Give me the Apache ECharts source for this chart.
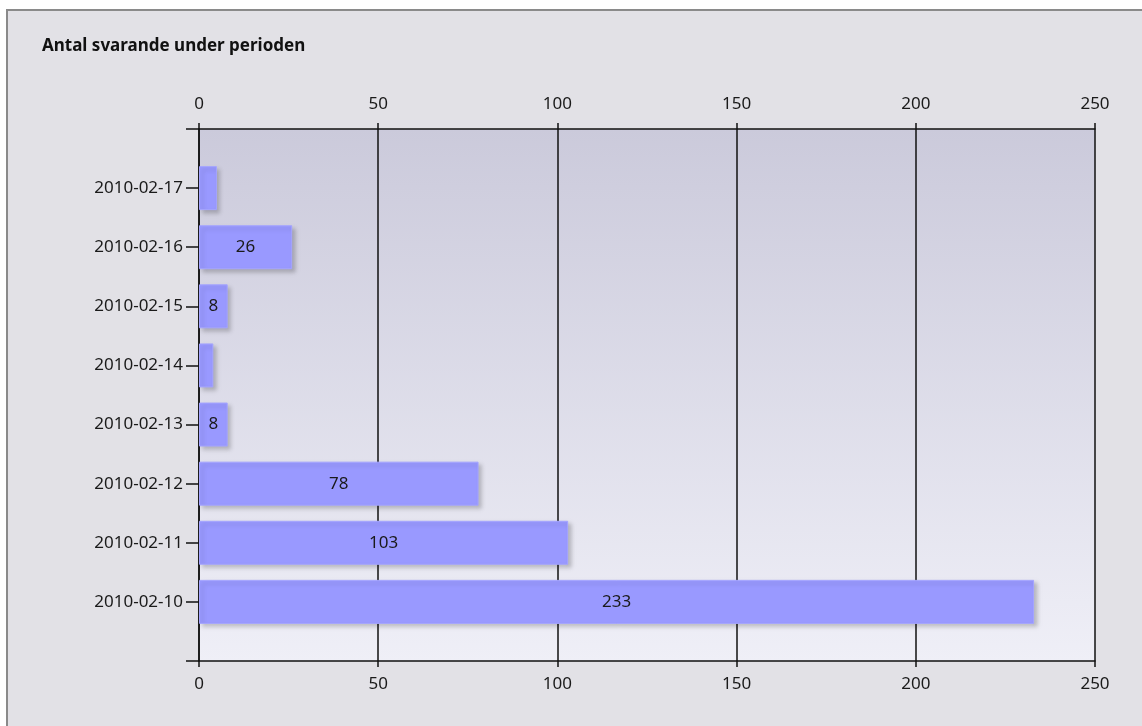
<!DOCTYPE html>
<html>
<head>
<meta charset="utf-8">
<script src="https://cdn.jsdelivr.net/npm/echarts@6/dist/echarts.min.js"></script>
<style>
html,body{margin:0;padding:0;background:#ffffff;}
#chart{width:1142px;height:726px;}
</style>
</head>
<body>
<div id="chart"></div>
<script>
const titleText = 'Antal svarande under perioden';
const categories = ['2010-02-17','2010-02-16','2010-02-15','2010-02-14','2010-02-13','2010-02-12','2010-02-11','2010-02-10'];
const values = [5, 26, 8, 4, 8, 78, 103, 233];
const xTicks = {min: 0, max: 250, interval: 50};
const labelMin = 6;

const axisCats = [''].concat(categories, ['']);
const seriesData = ['-'].concat(values, ['-']);
const font = 'Noto Sans, DejaVu Sans, sans-serif';

const chart = echarts.init(document.getElementById('chart'));
const xAxisBase = {
  type: 'value', min: xTicks.min, max: xTicks.max, interval: xTicks.interval,
  axisLine: {show: true, onZero: false, lineStyle: {color: '#111', width: 1.5}},
  axisTick: {show: true, length: 6, lineStyle: {color: '#111', width: 1.5}},
  axisLabel: {color: '#1a1a1a', fontFamily: font, fontSize: 17}
};
chart.setOption({
  animation: false,
  backgroundColor: '#ffffff',
  graphic: [{
    type: 'rect', z: -10, silent: true,
    shape: {x: 7, y: 10, width: 1200, height: 800},
    style: {fill: '#e2e1e6', stroke: '#8a8a8a', lineWidth: 2}
  }],
  title: {
    text: titleText, left: 42, top: 38, padding: 0,
    textStyle: {fontFamily: font, fontSize: 17, fontWeight: 'bold', color: '#111'}
  },
  grid: {
    left: 199, right: 47, top: 129, bottom: 65, show: true, borderWidth: 0,
    backgroundColor: new echarts.graphic.LinearGradient(0, 0, 0, 1, [
      {offset: 0, color: '#cbcadb'}, {offset: 1, color: '#efeff7'}
    ])
  },
  xAxis: [
    Object.assign({}, xAxisBase, {position: 'top',
      axisLabel: Object.assign({}, xAxisBase.axisLabel, {margin: 16}),
      splitLine: {show: true, lineStyle: {color: '#111', width: 1.5}}}),
    Object.assign({}, xAxisBase, {position: 'bottom',
      axisLabel: Object.assign({}, xAxisBase.axisLabel, {margin: 15}),
      splitLine: {show: false}})
  ],
  yAxis: {
    type: 'category', data: axisCats, inverse: true, boundaryGap: false,
    axisLine: {show: true, lineStyle: {color: '#111', width: 1.5}},
    axisTick: {show: true, length: 13, interval: 0, lineStyle: {color: '#111', width: 1.5}},
    axisLabel: {color: '#1a1a1a', fontFamily: font, fontSize: 17, margin: 16, interval: 0}
  },
  series: [{
    type: 'bar', data: seriesData, xAxisIndex: 0, barWidth: 44, z: 5,
    itemStyle: {
      color: '#9999ff', borderColor: '#a4a4ff', borderWidth: 1,
      shadowColor: 'rgba(0,0,0,0.2)', shadowBlur: 4, shadowOffsetX: 3, shadowOffsetY: 3
    },
    label: {
      show: true, position: 'inside', color: '#1a1a1a', fontFamily: font, fontSize: 17,
      formatter: p => (p.value >= labelMin ? String(p.value) : '')
    }
  }]
});
</script>
</body>
</html>
